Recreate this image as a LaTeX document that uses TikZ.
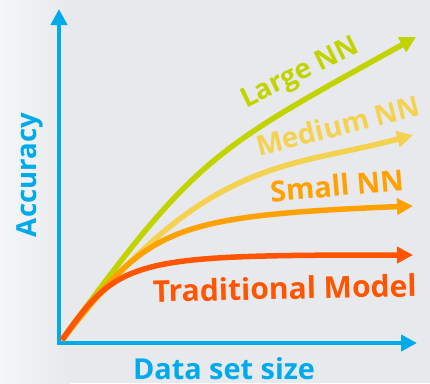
\documentclass[tikz,border=0pt]{standalone}
\usepackage{fontspec}
\setmainfont{Open Sans}
\usetikzlibrary{arrows.meta}

\definecolor{axisblue}{RGB}{0,170,235}
\definecolor{largeNN}{RGB}{194,212,0}
\definecolor{mediumNN}{RGB}{244,210,80}
\definecolor{smallNN}{RGB}{255,161,0}
\definecolor{tradmodel}{RGB}{255,85,0}
\definecolor{bgmain}{RGB}{232,233,237}
\definecolor{bglight}{RGB}{245,246,247}

\newcommand{\fitlabel}[2]{\resizebox{#1}{!}{\bfseries #2}}

\tikzset{
  axisline/.style={draw=axisblue, line width=4pt, line join=miter,
    {Triangle[length=16pt,width=16pt]}-{Triangle[length=16pt,width=16pt]}},
  curve/.style={line width=5.5pt, -{Triangle[length=16pt,width=16pt]}},
  lbl/.style={inner sep=0pt, outer sep=0pt, anchor=base west,
    font=\fontsize{28}{30}\selectfont}
}

\begin{document}
\begin{tikzpicture}[x=1pt,y=-1pt]
  % canvas
  \useasboundingbox (0,0) rectangle (430,383);
  \fill[bgmain] (0,0) rectangle (430,383);
  \shade[left color=bglight, right color=bgmain] (0,0) rectangle (70,383);

  % key points
  \coordinate (ytip) at (59,9);
  \coordinate (corner) at (59,343);
  \coordinate (xtip) at (417,343);
  \coordinate (O) at (62,340);
  \coordinate (tipL) at (416,37);
  \coordinate (tipM) at (413,135);
  \coordinate (tipS) at (413,206);
  \coordinate (tipT) at (413,255);

  % axes
  \draw[axisline] (ytip) -- (corner) -- (xtip);

  % growth curves
  \draw[curve, largeNN] (O) .. controls (197,154) and (215,149) .. (tipL);
  \draw[curve, mediumNN] (O) .. controls (206.8,154.8) and (287.4,168.7) .. (tipM);
  \draw[curve, smallNN] (O) .. controls (148.2,229.7) and (163,216) .. (tipS);
  \draw[curve, tradmodel] (O) .. controls (119.4,258) and (133,255) .. (tipT);

  % curve labels
  \node[lbl, text=largeNN, rotate=26] (labL) at (246,108) {\fitlabel{128pt}{Large NN}};
  \node[lbl, text=mediumNN, rotate=14] (labM) at (259,156) {\fitlabel{168pt}{Medium NN}};
  \node[lbl, text=smallNN, rotate=5] (labS) at (271,202) {\fitlabel{134pt}{Small NN}};
  \node[lbl, text=tradmodel, rotate=1.2] (labT) at (153,302) {\fitlabel{264pt}{Traditional Model}};

  % axis labels
  \node[lbl, text=axisblue] (labX) at (133,379) {\fitlabel{182pt}{Data set size}};
  \node[lbl, text=axisblue, rotate=90] (labY) at (36,237) {\fitlabel{124pt}{Accuracy}};
\end{tikzpicture}
\end{document}
